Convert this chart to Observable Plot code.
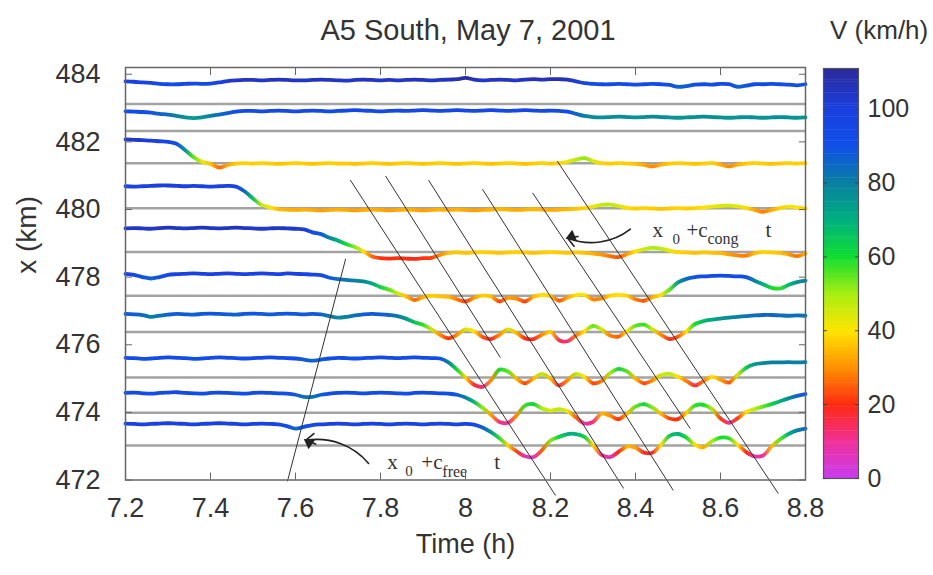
<!DOCTYPE html>
<html>
<head>
<meta charset="utf-8">
<script src="https://cdn.jsdelivr.net/npm/d3@7"></script>
<script src="https://cdn.jsdelivr.net/npm/@observablehq/plot@0.6"></script>
<style>
  body { margin: 0; background: #fff; }
  #wrap { position: relative; width: 933px; height: 575px; font-family: "Liberation Sans", Arial, sans-serif; color: #333; overflow: hidden; }
  #title { position: absolute; left: 125px; width: 686px; top: 14px; text-align: center; font-size: 29px; line-height: 32px; }
  #vlabel { position: absolute; left: 830px; top: 15px; font-size: 26px; line-height: 30px; white-space: nowrap; }
  #main { position: absolute; left: 0; top: 0; }
  #cbar { position: absolute; left: 821px; top: 53px; }
  svg { overflow: visible; }
</style>
</head>
<body>
<div id="wrap">
  <div id="main"></div>
  <div id="cbar"></div>
  <div id="title">A5 South, May 7, 2001</div>
  <div id="vlabel">V (km/h)</div>
</div>
<script>
// ---- data ----
const times = d3.range(81).map(i => +(7.2 + 0.02 * i).toFixed(2));   // sampling grid 7.20 … 8.80 h
const detectorPos = [483.12, 482.32, 481.37, 480.04, 478.74, 477.45, 476.38, 475.03, 473.99, 473.02];

const speedD1 = [101,100,98,97,94,93,93,94,95,94, 95,98,102,104,105,105,104,105,106,105, 104,104,105,106,105,104,103,105,106,105, 104,105,104,105,106,105,104,105,106,107, 111,106,104,105,106,105,104,106,107,106, 107,107,106,101,96,94,93,93,94,93, 92,93,94,93,91,86,88,92,93,92, 94,93,86,89,93,93,94,93,92,90,93];
const speedD2 = [93,92,91,89,86,84,80,76,74,76, 80,84,88,92,94,94,93,94,95,94, 93,94,95,94,93,94,95,96,95,94, 93,94,95,94,95,96,95,94,95,96, 95,94,95,96,95,94,95,96,95,94, 95,94,92,86,80,77,76,77,78,77, 76,77,78,77,76,75,76,77,78,77, 76,75,76,77,76,75,76,77,76,75,76];
const speedD3 = [104,103,102,101,99,97,92,75,55,42, 36,26,33,37,38,37,38,37,36,37, 38,37,36,37,38,37,37,36,37,38, 37,36,37,38,37,36,37,38,37,36, 37,38,37,36,37,38,37,36,37,38, 37,38,42,48,52,44,38,37,38,37, 36,33,29,34,37,38,37,36,37,38, 34,29,34,37,38,37,36,37,38,37,38];
const speedD4 = [99,98,99,100,101,101,100,99,100,99, 98,99,100,98,85,65,47,40,35,34, 33,34,33,32,33,34,33,32,33,34, 33,32,33,34,33,32,33,34,33,34, 33,32,33,34,35,34,33,34,35,34, 33,34,35,36,38,42,47,48,44,39, 37,38,37,36,37,38,37,38,40,42, 44,45,43,39,33,28,33,38,42,40,37];
const speedD5 = [104,105,104,103,105,106,105,104,105,106, 105,104,105,106,105,104,103,104,105,104, 103,101,93,88,78,70,60,52,40,26, 21,20,21,20,19,21,22,30,36,37, 36,37,38,37,36,37,38,37,36,37, 38,37,36,37,36,34,31,27,24,32, 40,46,50,48,42,38,37,36,37,36, 35,32,29,28,35,38,37,36,32,27,34];
const speedD6 = [99,96,90,86,90,96,98,99,100,99, 98,99,100,99,98,99,100,99,98,100, 99,98,97,95,88,84,82,80,78,72, 62,55,45,36,26,34,38,36,35,28, 22,32,38,36,22,32,30,22,35,40, 37,24,33,40,40,28,30,38,40,38, 28,24,34,40,55,75,85,90,92,93, 94,93,92,90,80,70,60,58,68,76,80];
const speedD7 = [88,87,85,80,83,86,88,87,86,88, 89,88,87,86,88,89,88,87,88,89, 88,87,88,87,82,78,80,84,87,88, 87,85,82,75,65,58,45,30,20,30, 45,40,24,18,30,45,35,20,18,30, 38,15,12,28,40,55,45,28,25,40, 55,58,45,30,18,25,40,60,68,72, 75,78,80,82,84,85,85,84,83,84,83];
const speedD8 = [93,92,90,91,93,94,93,92,90,91, 93,94,93,92,91,92,93,94,93,92, 91,88,85,88,91,93,92,91,92,93, 94,93,92,93,94,93,92,91,80,60, 38,18,12,30,60,55,35,22,35,48, 35,16,30,48,40,22,28,50,62,55, 35,22,30,45,48,40,28,16,28,40, 32,24,45,65,75,78,80,80,81,80,81];
const speedD9 = [93,94,92,91,93,94,95,93,92,91, 93,94,93,92,91,93,94,93,92,91, 88,82,82,88,91,93,94,93,92,93, 94,93,92,91,93,94,93,92,91,88, 80,68,52,32,12,10,30,58,62,50, 44,48,42,25,8,12,35,30,20,35, 55,62,52,35,22,20,38,58,60,48, 22,10,22,40,48,55,62,70,78,85,90];
const speedD10 = [99,98,97,98,99,100,99,98,97,98, 99,100,99,98,97,98,99,98,97,92, 85,90,95,97,98,99,98,97,98,99, 98,97,98,99,98,97,98,99,98,97, 98,96,88,75,58,38,22,8,6,25, 52,62,70,70,62,38,12,6,20,35, 32,18,18,40,65,70,60,40,33,50, 60,58,40,20,8,10,35,55,70,80,85];

// characteristic lines x0 + c_cong t (start / end in time h and position km)
const congT1 = [7.729, 7.812, 7.913, 8.040, 8.158, 8.216];
const congX1 = [480.87, 480.99, 480.87, 480.60, 480.49, 481.43];
const congT2 = [8.212, 8.082, 8.372, 8.489, 8.529, 8.736];
const congX2 = [471.54, 475.62, 471.75, 471.69, 473.52, 471.60];
// characteristic line x0 + c_free t
const freeT = [7.581, 7.718];
const freeX = [471.96, 478.54];

// annotation arrows (tail -> head)
const arrowCong = {t1: 8.388, x1: 479.42, t2: 8.240, x2: 479.16};
const arrowFree = {t1: 7.772, x1: 472.49, t2: 7.624, x2: 473.17};

const xTicks = [7.2, 7.4, 7.6, 7.8, 8, 8.2, 8.4, 8.6, 8.8];
const yTicks = [472, 474, 476, 478, 480, 482, 484];
const cbTicks = [0, 20, 40, 60, 80, 100];

const colorStops = [0, 10, 20, 30, 40, 50, 60, 70, 80, 90, 100, 110];
const colorRange = ["#c83cf0", "#f0309a", "#ff2a10", "#ff9000", "#ffe400", "#a8ee10", "#10dd30", "#00b080", "#0a80a0", "#1050e8", "#1a40e0", "#2b2ba0"];

// speed trace drawn around detector baseline: offset = (V - V0) * K km
const V0 = 38, K = 0.01063;

// ---- build ----
const speeds = [speedD1, speedD2, speedD3, speedD4, speedD5, speedD6, speedD7, speedD8, speedD9, speedD10];
const traces = speeds.map((vs, d) => vs.map((v, i) => ({t: times[i], y: detectorPos[d] + (v - V0) * K, v, d})));
const congIdx = congT1.map((_, i) => i);

const colorScale = {type: "linear", domain: colorStops, range: colorRange, clamp: true};

const serif = "Liberation Serif, Times New Roman, serif";
function label(base, pieces) {
  return pieces.map(p => Plot.text([base], {
    x: d => d.t, y: d => d.x, text: () => p.s, dx: p.dx, dy: p.dy,
    textAnchor: "start", fontSize: p.size, fontFamily: serif, fill: "#333"
  }));
}
const congLabel = label({t: 8.440, x: 479.395}, [
  {s: "x", dx: 0, dy: 0, size: 21}, {s: "0", dx: 20, dy: 9, size: 15},
  {s: "+c", dx: 34, dy: 0, size: 21}, {s: "cong", dx: 55, dy: 9, size: 16}, {s: "t", dx: 113, dy: 0, size: 21}
]);
const freeLabel = label({t: 7.816, x: 472.517}, [
  {s: "x", dx: 0, dy: 0, size: 21}, {s: "0", dx: 18, dy: 9, size: 15},
  {s: "+c", dx: 34, dy: 0, size: 21}, {s: "free", dx: 55, dy: 9, size: 16}, {s: "t", dx: 107, dy: 0, size: 21}
]);

const main = Plot.plot({
  width: 933, height: 575,
  marginLeft: 125, marginRight: 128, marginTop: 67, marginBottom: 95.5,
  x: {domain: [7.2, 8.8]},
  y: {domain: [472, 484.2]},
  color: colorScale,
  style: {fontFamily: "Liberation Sans, Arial, sans-serif", color: "#333", background: "transparent", overflow: "visible"},
  marks: [
    Plot.ruleY(detectorPos, {stroke: "#a3a3a3", strokeWidth: 2.5}),
    ...traces.map((tr, d) => Plot.line(tr, {x: "t", y: "y", stroke: `url(#spd-grad-${d})`, strokeWidth: 3.8, curve: "catmull-rom", strokeLinecap: "round", strokeLinejoin: "round"})),
    Plot.link(congIdx, {x1: i => congT1[i], y1: i => congX1[i], x2: i => congT2[i], y2: i => congX2[i], stroke: "#333", strokeWidth: 1}),
    Plot.link([0], {x1: () => freeT[0], y1: () => freeX[0], x2: () => freeT[1], y2: () => freeX[1], stroke: "#333", strokeWidth: 1}),
    Plot.arrow([arrowCong], {x1: "t1", y1: "x1", x2: "t2", y2: "x2", bend: 30, headLength: 10, stroke: "#222", strokeWidth: 1.6}),
    Plot.arrow([arrowFree], {x1: "t1", y1: "x1", x2: "t2", y2: "x2", bend: -30, headLength: 10, stroke: "#222", strokeWidth: 1.6}),
    Plot.dot([arrowCong], {x: "t2", y: "x2", symbol: "triangle", r: 4.2, fill: "#222", stroke: "none", rotate: 247, dx: 4, dy: -1.7}),
    Plot.dot([arrowFree], {x: "t2", y: "x2", symbol: "triangle", r: 4.2, fill: "#222", stroke: "none", rotate: 305, dx: 3.4, dy: 2.4}),
    ...congLabel,
    ...freeLabel,
    Plot.frame({stroke: "#666", strokeWidth: 1.5}),
    Plot.axisX({anchor: "bottom", ticks: xTicks, tickSize: 0, tickPadding: 18, fontSize: 27, label: null, tickFormat: d => `${d}`}),
    Plot.axisX({anchor: "bottom", ticks: xTicks, tickSize: -7, tickFormat: () => "", label: null, stroke: "#666"}),
    Plot.axisX({anchor: "top", ticks: xTicks, tickSize: -7, tickFormat: () => "", label: null, stroke: "#666"}),
    Plot.axisY({anchor: "left", ticks: yTicks, tickSize: 0, tickPadding: 25, fontSize: 27, label: null, tickFormat: d => `${d}`}),
    Plot.axisY({anchor: "left", ticks: yTicks, tickSize: -7, tickFormat: () => "", label: null, stroke: "#666"}),
    Plot.axisY({anchor: "right", ticks: yTicks, tickSize: -7, tickFormat: () => "", label: null, stroke: "#666"}),
    Plot.text(["Time (h)"], {text: d => d, frameAnchor: "bottom", dy: 73, fontSize: 27, fill: "#333"}),
    Plot.text(["x (km)"], {text: d => d, frameAnchor: "left", dx: -98, rotate: -90, fontSize: 28, fill: "#333"})
  ]
});
document.getElementById("main").appendChild(main);

// colour gradients along each trace, built from Plot's own x and colour scales
const xs = main.scale("x"), cs = main.scale("color");
const svgSel = d3.select(main.tagName.toLowerCase() === "svg" ? main : main.querySelector("svg"));
const defs = svgSel.insert("defs", ":first-child");
traces.forEach((tr, d) => {
  const x0 = xs.apply(tr[0].t), x1 = xs.apply(tr[tr.length - 1].t);
  const g = defs.append("linearGradient")
    .attr("id", `spd-grad-${d}`)
    .attr("gradientUnits", "userSpaceOnUse")
    .attr("x1", x0).attr("x2", x1).attr("y1", 0).attr("y2", 0);
  tr.forEach(p => {
    g.append("stop")
      .attr("offset", (xs.apply(p.t) - x0) / (x1 - x0))
      .attr("stop-color", cs.apply(p.v));
  });
});

const cbCells = d3.range(0, 111, 0.5);
const cbar = Plot.plot({
  width: 110, height: 440,
  marginTop: 15, marginBottom: 15, marginLeft: 2, marginRight: 73,
  y: {domain: [0, 111]},
  color: colorScale,
  style: {fontFamily: "Liberation Sans, Arial, sans-serif", color: "#333", background: "transparent", overflow: "visible"},
  marks: [
    Plot.ruleY(cbCells, {y: d => d + 0.25, stroke: d => d + 0.25, strokeWidth: 2.4}),
    Plot.frame({stroke: "#555", strokeWidth: 1.2}),
    Plot.axisY({anchor: "right", ticks: cbTicks, tickSize: 0, tickPadding: 9, fontSize: 25, label: null, tickFormat: d => `${d}`}),
    Plot.axisY({anchor: "left", ticks: cbTicks, tickSize: -4, tickFormat: () => "", label: null, stroke: "#444"}),
    Plot.axisY({anchor: "right", ticks: cbTicks, tickSize: -4, tickFormat: () => "", label: null, stroke: "#444"})
  ]
});
document.getElementById("cbar").appendChild(cbar);
</script>
</body>
</html>
